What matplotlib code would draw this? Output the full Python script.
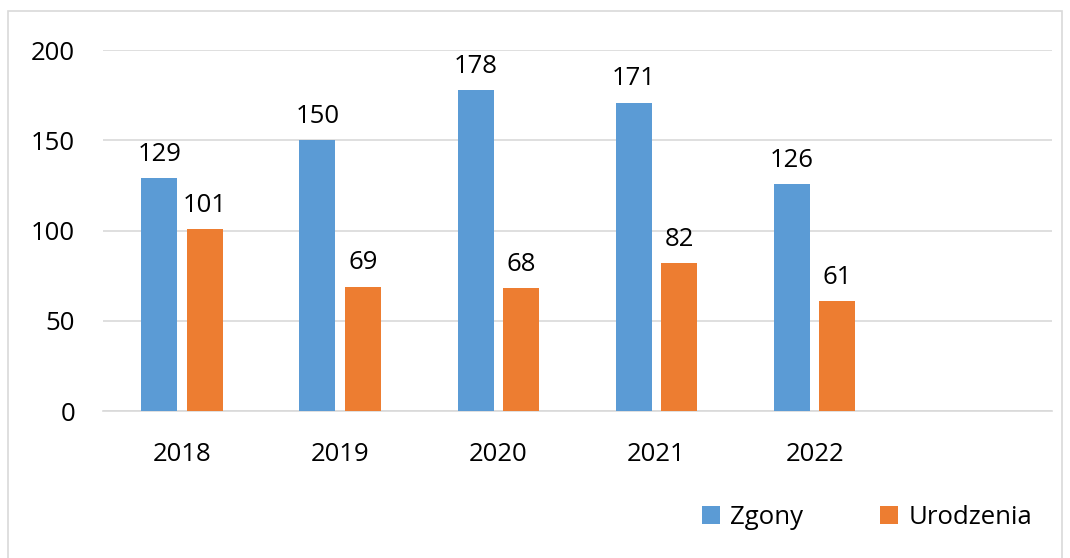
import numpy as np
import matplotlib
matplotlib.use("Agg")
import matplotlib.pyplot as plt
from matplotlib.patches import Rectangle

lata = ["2018", "2019", "2020", "2021", "2022", ""]
zgony = [129, 150, 178, 171, 126]
urodzenia = [101, 69, 68, 82, 61]

plt.rcParams['font.family'] = ['Open Sans', 'DejaVu Sans']

fig = plt.figure(figsize=(10.7, 5.58), dpi=100)
ax = fig.add_axes([0.0963, 0.2634, 0.8867, 0.6466])

x = np.arange(len(zgony))
szer = 0.228
off = 0.144
b1 = ax.bar(x - off, zgony, szer, color="#5B9BD5", label="Zgony", zorder=3)
b2 = ax.bar(x + off, urodzenia, szer, color="#ED7D31", label="Urodzenia", zorder=3)

for bars in (b1, b2):
    for r in bars:
        ax.annotate(str(int(r.get_height())), (r.get_x() + r.get_width() / 2, r.get_height()),
                    xytext=(0, 8), textcoords="offset points", ha="center", va="bottom",
                    fontsize=18.5, color="black")

ax.set_xlim(-0.5, len(lata) - 0.5)
ax.set_ylim(0, 200)
ax.set_yticks([0, 50, 100, 150, 200])
ax.set_xticks(np.arange(len(lata)))
ax.set_xticklabels(lata)
ax.tick_params(axis="both", length=0, labelsize=18.5, colors="black")
ax.tick_params(axis="y", pad=20)
ax.tick_params(axis="x", pad=22)
ax.grid(axis="y", color="#d9d9d9", linewidth=1.2, zorder=0)
for s in ["top", "right", "left"]:
    ax.spines[s].set_visible(False)
ax.spines["bottom"].set_color("#d9d9d9")
ax.spines["bottom"].set_linewidth(1.2)

fig.legend(handles=[b1, b2], loc="center", bbox_to_anchor=(0.81, 0.072), ncol=2,
           frameon=False, fontsize=18.5, handlelength=0.7, handleheight=0.7,
           handletextpad=0.4, columnspacing=3.0)

fig.patches.append(Rectangle((8 / 1070, -0.01), 1054 / 1070, 1 - 11 / 558 + 0.01,
                             transform=fig.transFigure, fill=False,
                             edgecolor="#d9d9d9", linewidth=1.2))

fig.savefig("out.png", dpi=100)
